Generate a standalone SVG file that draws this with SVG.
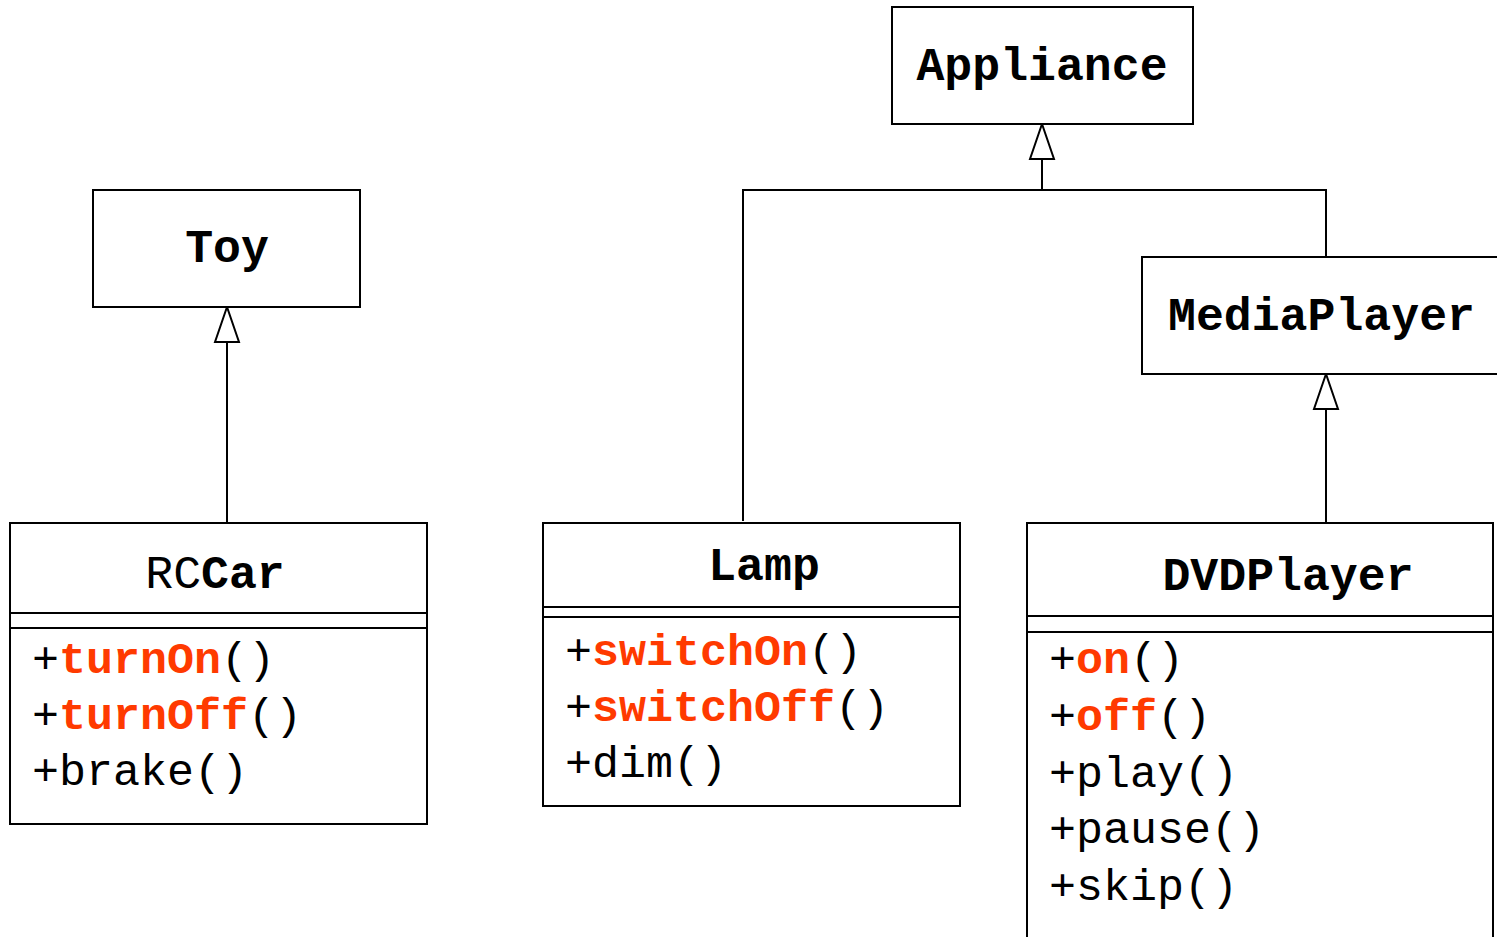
<svg xmlns="http://www.w3.org/2000/svg" width="1497" height="937" viewBox="0 0 1497 937">
  <defs>
    <style>
      .box { fill: #ffffff; stroke: #000000; stroke-width: 2; }
      .div { stroke: #000000; stroke-width: 2; fill: none; }
      .edge { stroke: #000000; stroke-width: 2; fill: none; }
      .name { font-family: "Liberation Mono", "Courier New", monospace; font-size: 46.5px; font-weight: bold; fill: #000000; }
      .reg { font-weight: normal; }
      .op { font-family: "Liberation Mono", "Courier New", monospace; font-size: 45px; fill: #000000; }
      .hl { font-weight: bold; fill: #ff3a00; }
    </style>
    <!-- hollow triangle for generalization, drawn along +x so orient="auto" points it along the edge -->
    <marker id="gen" markerUnits="userSpaceOnUse" markerWidth="38" markerHeight="28" refX="36" refY="13" orient="auto" viewBox="0 0 38 26">
      <path d="M36 13 L1 1 L1 25 Z" fill="#ffffff" stroke="#000000" stroke-width="2"/>
    </marker>
  </defs>
  <rect width="1497" height="937" fill="#ffffff"/>

  <!-- generalization connectors -->
  <g id="connectors">
    <path class="edge" d="M227 523 V307" marker-end="url(#gen)"/>
    <path class="edge" d="M743 521 V190 H1326 V257"/>
    <path class="edge" d="M1042 190 V124" marker-end="url(#gen)"/>
    <path class="edge" d="M1326 523 V374" marker-end="url(#gen)"/>
  </g>

  <g id="Toy">
    <rect class="box" x="93" y="190" width="267" height="117"/>
    <text class="name" x="227" y="262" text-anchor="middle">Toy</text>
  </g>

  <g id="Appliance">
    <rect class="box" x="892" y="7" width="301" height="117"/>
    <text class="name" x="1042" y="80" text-anchor="middle">Appliance</text>
  </g>

  <g id="MediaPlayer">
    <rect class="box" x="1142" y="257" width="370" height="117"/>
    <text class="name" x="1168" y="330">MediaPlayer</text>
  </g>

  <g id="RCCar">
    <rect class="box" x="10" y="523" width="417" height="301"/>
    <line class="div" x1="10" y1="613" x2="427" y2="613"/>
    <line class="div" x1="10" y1="628" x2="427" y2="628"/>
    <text class="name" x="215" y="588" text-anchor="middle"><tspan class="reg">RC</tspan>Car</text>
    <text class="op" x="32" y="673">+<tspan class="hl">turnOn</tspan>()</text>
    <text class="op" x="32" y="729">+<tspan class="hl">turnOff</tspan>()</text>
    <text class="op" x="32" y="785">+brake()</text>
  </g>

  <g id="Lamp">
    <rect class="box" x="543" y="523" width="417" height="283"/>
    <line class="div" x1="543" y1="607" x2="960" y2="607"/>
    <line class="div" x1="543" y1="617" x2="960" y2="617"/>
    <text class="name" x="764" y="580" text-anchor="middle">Lamp</text>
    <text class="op" x="565" y="665">+<tspan class="hl">switchOn</tspan>()</text>
    <text class="op" x="565" y="721">+<tspan class="hl">switchOff</tspan>()</text>
    <text class="op" x="565" y="777">+dim()</text>
  </g>

  <g id="DVDPlayer">
    <rect class="box" x="1027" y="523" width="466" height="440"/>
    <line class="div" x1="1027" y1="616" x2="1493" y2="616"/>
    <line class="div" x1="1027" y1="632" x2="1493" y2="632"/>
    <text class="name" x="1288" y="590" text-anchor="middle">DVDPlayer</text>
    <text class="op" x="1049" y="673">+<tspan class="hl">on</tspan>()</text>
    <text class="op" x="1049" y="730">+<tspan class="hl">off</tspan>()</text>
    <text class="op" x="1049" y="787">+play()</text>
    <text class="op" x="1049" y="843">+pause()</text>
    <text class="op" x="1049" y="900">+skip()</text>
  </g>
</svg>
